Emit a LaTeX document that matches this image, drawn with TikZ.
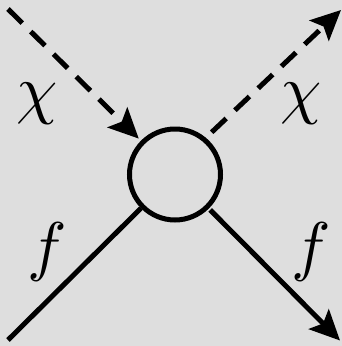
\documentclass[tikz,border=0pt]{standalone}
\usepackage{graphicx}
\usetikzlibrary{arrows.meta}
\definecolor{bgcol}{RGB}{222,222,222}
\newcommand{\biglab}[1]{\scalebox{6.6}{$#1$}}
\tikzset{
  line/.style={line width=5pt, black},
  dline/.style={line, dash pattern=on 20pt off 12pt},
  tipA/.style={-{Stealth[length=30pt,width=28pt,inset=6pt]}},
  lab/.style={inner sep=0pt},
  vert/.style={circle, draw, line width=5pt, minimum size=91pt, inner sep=0pt}
}
\begin{document}
\begin{tikzpicture}[x=1pt,y=-1pt]
\fill[bgcol] (0,0) rectangle (342,346);
\useasboundingbox (0,0) rectangle (342,346);
\node[vert] (v) at (175,174.5) {};
\coordinate (a) at (8,9);
\coordinate (b) at (341,10);
\coordinate (c) at (8,340);
\coordinate (d) at (340,340.5);
\draw[dline, tipA, shorten >=3pt] (a) -- (v);
\draw[dline, tipA, dash phase=24pt] (v.50) -- (b);
\draw[line] (c) -- (v);
\draw[line, tipA, shorten <=2pt] (v) -- (d);
\node[lab] (chi1) at (37,103.3) {\biglab{\chi}};
\node[lab] (chi2) at (301,103.3) {\biglab{\chi}};
\node[lab] (f1) at (47.5,251.5) {\biglab{f}};
\node[lab] (f2) at (311,251.5) {\biglab{f}};
\end{tikzpicture}
\end{document}
